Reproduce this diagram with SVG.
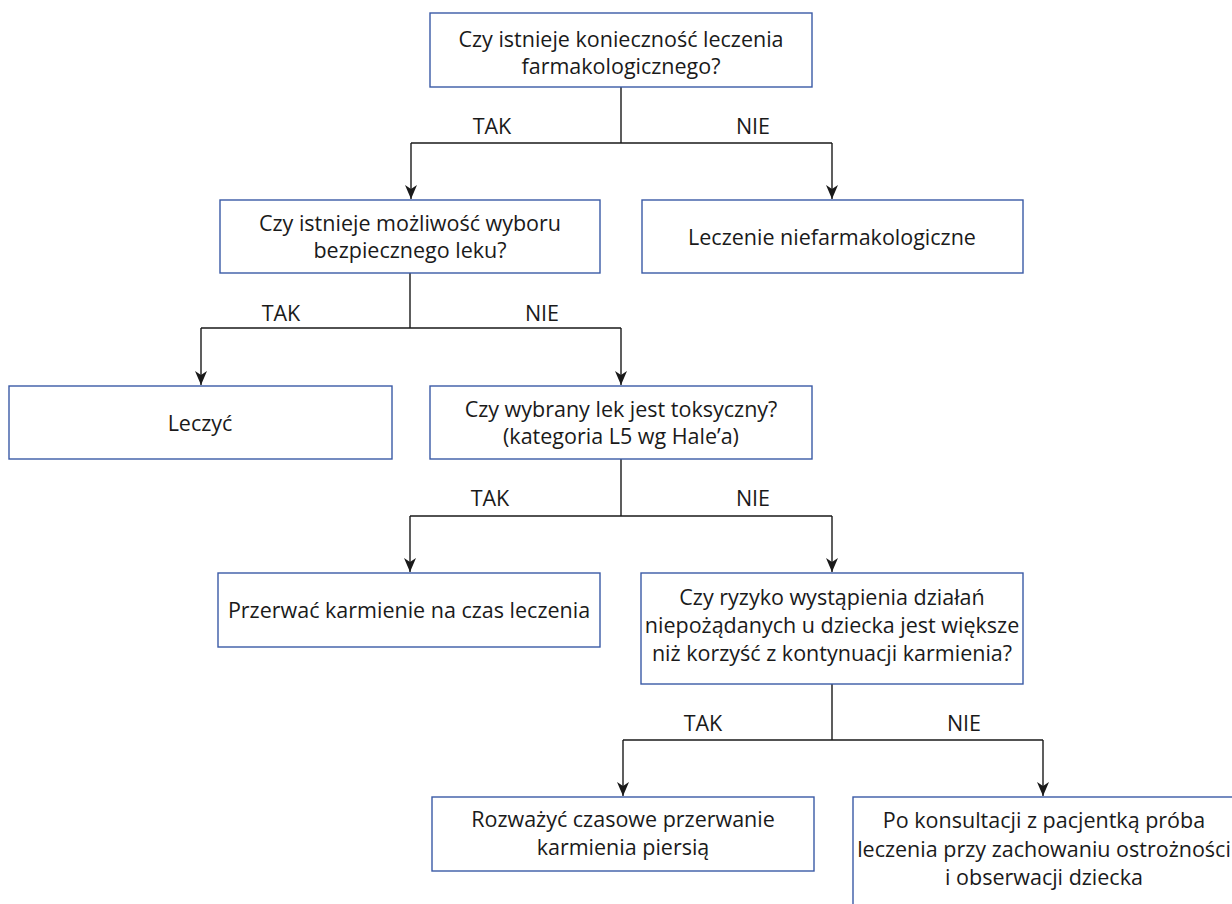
<svg xmlns="http://www.w3.org/2000/svg" width="1232" height="904" viewBox="0 0 1232 904">
<style>
.box{fill:#fff;stroke:#3a5aa6;stroke-width:1.4}
.t{font-family:"Open Sans","Noto Sans","Liberation Sans",sans-serif;font-size:21.5px;fill:#1a1a1a;text-anchor:middle}
.c{fill:none;stroke:#1a1a1a;stroke-width:1.4}
</style>
<defs>
<marker id="ar" markerUnits="userSpaceOnUse" markerWidth="14" markerHeight="12" viewBox="0 0 14 12" refX="14" refY="6" orient="auto">
<path d="M0,0 L14,6 L0,12 L4,6 z" fill="#1a1a1a"/>
</marker>
</defs>
<rect width="1232" height="904" fill="#fff"/>
<g id="connectors">
<path class="c" d="M621,87 V143 M411,143 H832" />
<path class="c" d="M411,143 V199" marker-end="url(#ar)"/>
<path class="c" d="M832,143 V199" marker-end="url(#ar)"/>
<path class="c" d="M410,273 V328 M201,328 H621"/>
<path class="c" d="M201,328 V385" marker-end="url(#ar)"/>
<path class="c" d="M621,328 V385" marker-end="url(#ar)"/>
<path class="c" d="M621,459 V516 M410,516 H832"/>
<path class="c" d="M410,516 V572" marker-end="url(#ar)"/>
<path class="c" d="M832,516 V572" marker-end="url(#ar)"/>
<path class="c" d="M832,684 V740 M623,740 H1043"/>
<path class="c" d="M623,740 V796" marker-end="url(#ar)"/>
<path class="c" d="M1043,740 V796" marker-end="url(#ar)"/>
<text class="t" x="492" y="134">TAK</text>
<text class="t" x="753" y="134">NIE</text>
<text class="t" x="281" y="321">TAK</text>
<text class="t" x="542" y="321">NIE</text>
<text class="t" x="490" y="506">TAK</text>
<text class="t" x="753" y="506">NIE</text>
<text class="t" x="703" y="731">TAK</text>
<text class="t" x="964" y="731">NIE</text>
</g>
<g id="n1">
<rect class="box" x="430" y="13" width="382" height="74"/>
<text class="t" x="621" y="47">Czy istnieje konieczność leczenia</text>
<text class="t" x="621" y="74">farmakologicznego?</text>
</g>
<g id="n2">
<rect class="box" x="220" y="200" width="380" height="73"/>
<text class="t" x="410" y="231">Czy istnieje możliwość wyboru</text>
<text class="t" x="410" y="258">bezpiecznego leku?</text>
</g>
<g id="n3">
<rect class="box" x="642" y="200" width="381" height="73"/>
<text class="t" x="832" y="245">Leczenie niefarmakologiczne</text>
</g>
<g id="n4">
<rect class="box" x="9" y="386" width="383" height="73"/>
<text class="t" x="200" y="431">Leczyć</text>
</g>
<g id="n5">
<rect class="box" x="430" y="386" width="382" height="73"/>
<text class="t" x="621" y="417">Czy wybrany lek jest toksyczny?</text>
<text class="t" x="621" y="444">(kategoria L5 wg Hale’a)</text>
</g>
<g id="n6">
<rect class="box" x="218" y="573" width="382" height="74"/>
<text class="t" x="409" y="618">Przerwać karmienie na czas leczenia</text>
</g>
<g id="n7">
<rect class="box" x="641" y="573" width="382" height="111"/>
<text class="t" x="832" y="605">Czy ryzyko wystąpienia działań</text>
<text class="t" x="832" y="633">niepożądanych u dziecka jest większe</text>
<text class="t" x="832" y="661">niż korzyść z kontynuacji karmienia?</text>
</g>
<g id="n8">
<rect class="box" x="432" y="797" width="382" height="74"/>
<text class="t" x="623" y="827">Rozważyć czasowe przerwanie</text>
<text class="t" x="623" y="855">karmienia piersią</text>
</g>
<g id="n9">
<rect class="box" x="853" y="797" width="382" height="120"/>
<text class="t" x="1044" y="828">Po konsultacji z pacjentką próba</text>
<text class="t" x="1044" y="857">leczenia przy zachowaniu ostrożności</text>
<text class="t" x="1044" y="885">i obserwacji dziecka</text>
</g>
</svg>
